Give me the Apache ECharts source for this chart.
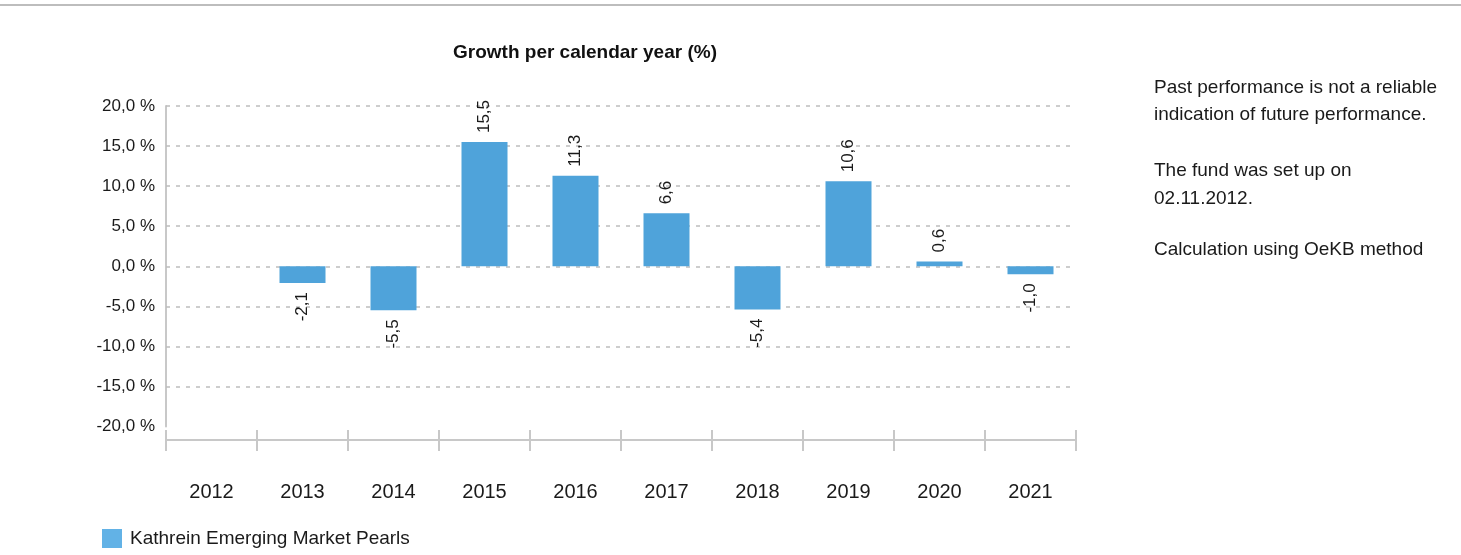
<!DOCTYPE html>
<html>
<head>
<meta charset="utf-8">
<script src="https://cdn.jsdelivr.net/npm/echarts@6/dist/echarts.min.js"></script>
<style>
html,body{margin:0;padding:0;background:#fff;}
#c{width:1461px;height:555px;}
</style>
</head>
<body>
<div id="c"></div>
<script>
const years = ['2012','2013','2014','2015','2016','2017','2018','2019','2020','2021'];
const growth = [null, -2.1, -5.5, 15.5, 11.3, 6.6, -5.4, 10.6, 0.6, -1.0];
const seriesName = 'Kathrein Emerging Market Pearls';
const yTicks = { min: -20, max: 20, interval: 5 };
const gridValues = [20, 15, 10, 5, 0, -5, -10, -15];
const notes = [
  'Past performance is not a reliable',
  'indication of future performance.',
  'The fund was set up on',
  '02.11.2012.',
  'Calculation using OeKB method'
];
const noteY = [89, 116, 172, 200, 251];

const fmt = v => v.toFixed(1).replace('.', ',');
const font = '"Liberation Sans", Arial, sans-serif';
const barColor = '#4FA3DA';

const barData = growth.map(v => {
  if (v === null) return null;
  const pos = v >= 0;
  return {
    value: v,
    label: {
      show: true,
      position: pos ? 'top' : 'bottom',
      rotate: 90,
      align: pos ? 'left' : 'right',
      verticalAlign: 'middle',
      distance: 9,
      formatter: () => fmt(v),
      fontSize: 17,
      fontFamily: font,
      color: '#1a1a1a'
    }
  };
});

const chart = echarts.init(document.getElementById('c'), null, { renderer: 'canvas' });
const axisGray = '#c8c8c8';
chart.setOption({
  animation: false,
  backgroundColor: '#fff',
  title: {
    text: 'Growth per calendar year (%)',
    left: 448, top: 38,
    textStyle: { fontFamily: font, fontSize: 19, fontWeight: 'bold', color: '#111' }
  },
  legend: {
    left: 97, top: 524,
    icon: 'rect', itemWidth: 20, itemHeight: 19,
    data: [{ name: seriesName, itemStyle: { color: '#62B2E6' } }],
    textStyle: { fontFamily: font, fontSize: 19, color: '#1a1a1a', padding: [0, 0, 0, 3] }
  },
  grid: { left: 166, right: 385, top: 106, bottom: 128.5 },
  xAxis: [
    {
      type: 'category', data: years, position: 'bottom', offset: 13.5,
      axisLine: { show: true, onZero: false, lineStyle: { color: axisGray, width: 2 } },
      axisTick: { show: true, length: 11, lineStyle: { color: axisGray, width: 2 } },
      axisLabel: { margin: 42, fontSize: 20, fontFamily: font, color: '#1a1a1a' },
      splitLine: { show: false }
    },
    {
      type: 'category', data: years, position: 'bottom', offset: 13.5,
      axisLine: { show: false, onZero: false },
      axisTick: { show: true, inside: true, length: 10, lineStyle: { color: axisGray, width: 2 } },
      axisLabel: { show: false },
      splitLine: { show: false }
    }
  ],
  yAxis: {
    type: 'value', min: yTicks.min, max: yTicks.max, interval: yTicks.interval,
    axisLine: { show: true, lineStyle: { color: axisGray, width: 2 } },
    axisTick: { show: false },
    axisLabel: { margin: 11, fontSize: 17, fontFamily: font, color: '#1a1a1a',
      formatter: v => fmt(v) + ' %' },
    splitLine: { show: false }
  },
  series: [{
    name: seriesName, type: 'bar', xAxisIndex: 0, data: barData,
    barWidth: 46, itemStyle: { color: barColor },
    z: 2,
    markLine: {
      silent: true, symbol: 'none', z: 1,
      label: { show: false },
      lineStyle: { color: '#bdbdbd', width: 1.5, type: [4, 6] },
      data: gridValues.map(v => ({ yAxis: v }))
    }
  }],
  graphic: [
    { type: 'line', shape: { x1: 0, y1: 5, x2: 1461, y2: 5 }, style: { stroke: '#bdbdbd', lineWidth: 2 } }
  ].concat(notes.map((t, i) => ({
    type: 'text', left: 1154, top: noteY[i] - 11,
    style: { text: t, font: '19px ' + font, fill: '#1a1a1a' }
  })))
});
</script>
</body>
</html>
